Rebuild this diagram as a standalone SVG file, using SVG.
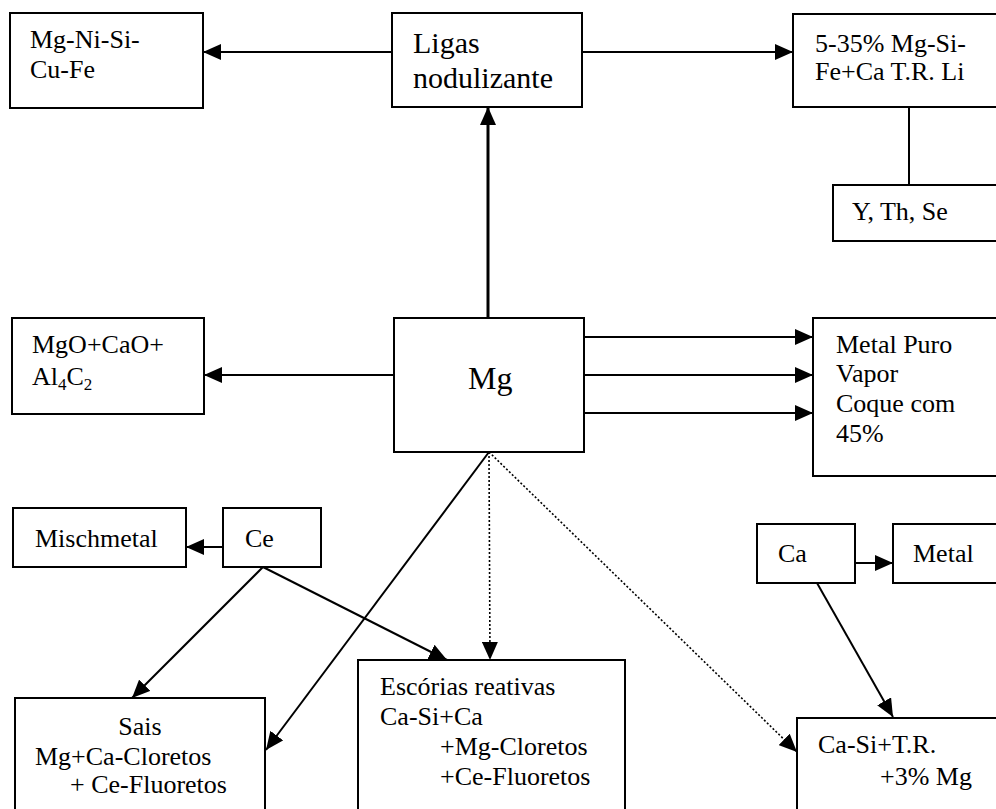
<svg xmlns="http://www.w3.org/2000/svg" width="996" height="809" viewBox="0 0 996 809">
<style>
.box{fill:#fff;stroke:#000;stroke-width:2}
text{font-family:'Liberation Serif','Times New Roman',Times,'DejaVu Serif',serif;font-size:26px;fill:#000}
.big{font-size:30px}
.mg{font-size:32px}
.c{fill:none;stroke:#000;stroke-width:2}
.thick{stroke-width:3}
.dot{fill:none;stroke:#000;stroke-width:1.6;stroke-dasharray:2 2}
</style>
<defs>
<marker id="ah" viewBox="0 0 18 16" refX="18" refY="8" markerWidth="18" markerHeight="16" orient="auto" markerUnits="userSpaceOnUse">
<path d="M0,0 L18,8 L0,16 z" fill="#000"/>
</marker>
</defs>
<rect width="996" height="809" fill="#fff"/>

<g id="connectors">
<line class="c" x1="392" y1="52" x2="203" y2="52" marker-end="url(#ah)"/>
<line class="c" x1="582" y1="52" x2="793" y2="52" marker-end="url(#ah)"/>
<line class="c" x1="909" y1="107" x2="909" y2="185"/>
<line class="c thick" x1="488" y1="318" x2="488" y2="107" marker-end="url(#ah)"/>
<line class="c" x1="394" y1="375" x2="204" y2="375" marker-end="url(#ah)"/>
<line class="c" x1="584" y1="337" x2="813" y2="337" marker-end="url(#ah)"/>
<line class="c" x1="584" y1="375" x2="813" y2="375" marker-end="url(#ah)"/>
<line class="c" x1="584" y1="413" x2="813" y2="413" marker-end="url(#ah)"/>
<line class="c" x1="223" y1="547" x2="186" y2="547" marker-end="url(#ah)"/>
<line class="c" x1="263" y1="567" x2="132" y2="698" marker-end="url(#ah)"/>
<line class="c" x1="263" y1="567" x2="447" y2="660" marker-end="url(#ah)"/>
<line class="c" x1="489" y1="452" x2="266" y2="750" marker-end="url(#ah)"/>
<line class="dot" x1="489" y1="452" x2="490" y2="660" marker-end="url(#ah)"/>
<line class="dot" x1="489" y1="452" x2="797" y2="752" marker-end="url(#ah)"/>
<line class="c" x1="855" y1="563" x2="893" y2="563" marker-end="url(#ah)"/>
<line class="c" x1="817" y1="583" x2="893" y2="717" marker-end="url(#ah)"/>
</g>

<g id="n-mgnisi">
<rect class="box" x="10" y="13" width="193" height="95"/>
<text x="30" y="48">Mg-Ni-Si-</text>
<text x="30" y="78">Cu-Fe</text>
</g>

<g id="n-ligas">
<rect class="box" x="392" y="13" width="190" height="94"/>
<text class="big" x="413" y="53">Ligas</text>
<text class="big" x="413" y="88">nodulizante</text>
</g>

<g id="n-535">
<rect class="box" x="793" y="14" width="210" height="93"/>
<text x="815" y="52">5-35% Mg-Si-</text>
<text x="815" y="80">Fe+Ca T.R. Li</text>
</g>

<g id="n-ythse">
<rect class="box" x="833" y="185" width="170" height="56"/>
<text x="852" y="220">Y, Th, Se</text>
</g>

<g id="n-mgo">
<rect class="box" x="12" y="318" width="192" height="96"/>
<text x="32" y="353">MgO+CaO+</text>
<text x="32" y="385">Al<tspan font-size="17" dy="5">4</tspan><tspan dy="-5">C</tspan><tspan font-size="17" dy="5">2</tspan></text>
</g>

<g id="n-mg">
<rect class="box" x="394" y="318" width="190" height="134"/>
<text class="mg" x="468" y="389">Mg</text>
</g>

<g id="n-metalpuro">
<rect class="box" x="813" y="318" width="190" height="158"/>
<text x="836" y="353">Metal Puro</text>
<text x="836" y="382">Vapor</text>
<text x="836" y="412">Coque com</text>
<text x="836" y="442">45%</text>
</g>

<g id="n-mischmetal">
<rect class="box" x="13" y="508" width="173" height="59"/>
<text x="35" y="547">Mischmetal</text>
</g>

<g id="n-ce">
<rect class="box" x="223" y="508" width="98" height="59"/>
<text x="245" y="547">Ce</text>
</g>

<g id="n-ca">
<rect class="box" x="757" y="524" width="98" height="59"/>
<text x="778" y="562">Ca</text>
</g>

<g id="n-metal">
<rect class="box" x="893" y="524" width="110" height="59"/>
<text x="913" y="562">Metal</text>
</g>

<g id="n-sais">
<rect class="box" x="15" y="698" width="250" height="120"/>
<text x="140" y="735" text-anchor="middle">Sais</text>
<text x="35" y="765">Mg+Ca-Cloretos</text>
<text x="70" y="793">+ Ce-Fluoretos</text>
</g>

<g id="n-escorias">
<rect class="box" x="358" y="660" width="267" height="160"/>
<text x="380" y="695">Escórias reativas</text>
<text x="380" y="725">Ca-Si+Ca</text>
<text x="440" y="755">+Mg-Cloretos</text>
<text x="440" y="785">+Ce-Fluoretos</text>
</g>

<g id="n-casi">
<rect class="box" x="797" y="718" width="210" height="100"/>
<text x="818" y="753">Ca-Si+T.R.</text>
<text x="880" y="785">+3% Mg</text>
</g>
</svg>
